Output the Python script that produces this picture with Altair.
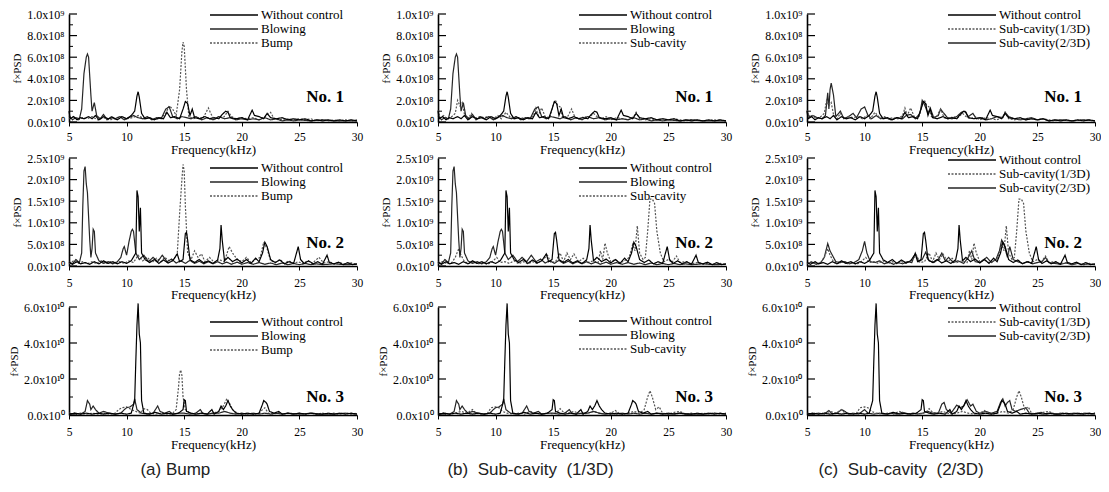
import altair as alt
import pandas as pd

# ---------------- data (frequency kHz, value in row units) ----------------
# Row 1 values in units of 1e8, Row 2 in units of 1e8, Row 3 in units of 1e10

WC_ROW1 = [(5.0,1.0),(5.1,0.3),(5.4,0.5),(5.7,0.2),(6.0,0.4),(6.3,0.3),(6.7,0.5),(7.0,0.3),(7.3,0.6),(7.6,0.2),(8.0,0.5),(8.4,0.3),(8.8,0.4),(9.2,0.2),(9.6,0.5),(10.0,0.3),(10.4,0.6),(10.7,1.0),(10.9,2.4),(11.0,2.8),(11.1,2.3),(11.3,0.8),(11.6,0.3),(12.0,0.4),(12.4,0.2),(12.8,0.4),(13.2,0.3),(13.5,0.9),(13.8,0.4),(14.2,0.5),(14.6,0.3),(14.9,1.2),(15.1,1.9),(15.3,1.7),(15.5,0.6),(15.7,1.2),(15.9,0.4),(16.3,0.3),(16.8,0.5),(17.2,0.3),(17.6,0.4),(18.0,0.3),(18.3,0.7),(18.6,1.0),(18.8,0.9),(19.0,0.4),(19.5,0.3),(20.0,0.4),(20.5,0.2),(20.9,1.1),(21.1,0.6),(21.5,0.5),(21.9,0.3),(22.2,0.8),(22.5,0.4),(23.0,0.3),(23.5,0.4),(24.0,0.2),(24.5,0.3),(25.0,0.2),(25.5,0.3),(26.0,0.1),(26.5,0.2),(27.0,0.1),(27.5,0.2),(28.0,0.1),(28.5,0.2),(29.0,0.1),(29.5,0.2),(30.0,0.1)]

BLOW_ROW1 = [(5.0,0.6),(5.3,0.2),(5.6,0.4),(5.9,0.3),(6.1,1.2),(6.3,4.5),(6.5,6.0),(6.6,6.3),(6.7,6.0),(6.9,2.5),(7.0,1.0),(7.2,1.8),(7.4,0.6),(7.7,0.3),(8.0,0.7),(8.3,0.2),(8.7,0.5),(9.0,0.3),(9.4,0.5),(9.8,0.2),(10.2,0.4),(10.6,0.6),(11.0,0.4),(11.4,0.3),(11.8,0.5),(12.2,0.2),(12.6,0.4),(13.0,0.3),(13.4,1.2),(13.7,1.4),(14.0,0.5),(14.4,0.3),(14.8,0.5),(15.2,0.4),(15.6,0.3),(16.0,0.5),(16.5,0.2),(17.0,0.4),(17.5,0.2),(18.0,0.5),(18.5,0.3),(19.0,0.4),(19.5,0.2),(20.0,0.3),(20.5,0.2),(21.0,0.3),(21.5,0.2),(22.0,0.4),(22.5,0.2),(23.0,0.3),(23.5,0.1),(24.0,0.2),(24.5,0.1),(25.0,0.2),(26.0,0.1),(27.0,0.2),(28.0,0.1),(29.0,0.1),(30.0,0.1)]

BUMP_ROW1 = [(5.0,0.3),(5.4,0.5),(5.8,0.2),(6.2,0.4),(6.6,0.3),(7.0,0.5),(7.5,0.2),(8.0,0.4),(8.5,0.2),(9.0,0.3),(9.5,0.5),(10.0,0.3),(10.5,0.4),(11.0,0.6),(11.5,0.3),(12.0,0.4),(12.5,0.2),(13.0,0.4),(13.4,0.8),(13.7,1.5),(14.0,1.2),(14.3,0.6),(14.6,3.0),(14.8,6.5),(14.9,7.4),(15.0,7.0),(15.2,3.0),(15.4,0.5),(15.8,0.3),(16.2,0.4),(16.6,0.3),(16.9,0.9),(17.1,1.3),(17.3,0.8),(17.6,0.2),(18.0,0.5),(18.4,0.4),(18.8,1.0),(19.1,0.5),(19.5,0.3),(20.0,0.4),(20.5,0.3),(21.0,0.4),(21.5,0.2),(22.0,0.5),(22.5,0.9),(22.8,0.3),(23.2,0.2),(23.8,0.3),(24.5,0.2),(25.0,0.3),(25.5,0.2),(26.0,0.3),(26.5,0.1),(27.0,0.2),(27.5,0.1),(28.0,0.2),(28.5,0.1),(29.0,0.2),(29.5,0.1),(30.0,0.2)]

SUB13_ROW1 = [(5.0,1.1),(5.2,0.4),(5.5,0.6),(5.8,0.3),(6.2,0.5),(6.5,0.8),(6.7,2.0),(6.9,1.5),(7.1,1.8),(7.3,0.7),(7.6,0.3),(7.9,0.8),(8.2,0.3),(8.6,0.5),(9.0,0.4),(9.4,0.5),(9.8,0.3),(10.2,0.6),(10.5,0.3),(10.9,0.9),(11.3,0.4),(11.7,0.5),(12.1,0.3),(12.5,0.4),(12.9,0.3),(13.3,0.6),(13.5,1.3),(13.7,0.6),(14.0,1.3),(14.3,0.5),(14.7,0.4),(15.0,1.6),(15.2,2.0),(15.4,1.5),(15.6,1.4),(15.8,0.5),(16.2,0.4),(16.6,1.2),(16.9,0.4),(17.3,0.3),(17.7,0.5),(18.1,0.4),(18.5,0.8),(18.8,0.5),(19.2,0.3),(19.6,0.5),(20.0,0.2),(20.5,0.4),(21.0,0.3),(21.5,0.2),(22.0,0.5),(22.2,0.9),(22.5,0.3),(23.0,0.2),(23.5,0.3),(24.0,0.2),(24.5,0.3),(25.0,0.2),(25.5,0.3),(26.0,0.2),(26.5,0.1),(27.0,0.2),(28.0,0.1),(29.0,0.2),(30.0,0.1)]

SUB23_ROW1 = [(5.0,1.0),(5.2,0.5),(5.5,0.6),(5.9,0.4),(6.3,0.3),(6.6,0.6),(6.8,2.7),(6.9,1.2),(7.0,3.0),(7.1,3.6),(7.3,2.5),(7.5,0.5),(7.9,1.0),(8.2,0.3),(8.6,0.5),(9.0,0.8),(9.3,0.4),(9.7,1.2),(10.0,1.4),(10.3,0.6),(10.6,0.3),(11.0,0.6),(11.4,0.3),(11.8,0.4),(12.3,0.2),(12.8,0.4),(13.3,0.3),(13.6,0.6),(14.0,0.7),(14.4,0.3),(14.8,0.8),(15.0,2.0),(15.2,1.6),(15.5,0.8),(15.7,1.3),(16.0,0.4),(16.4,0.6),(16.6,1.2),(16.8,0.9),(17.2,0.4),(17.6,0.3),(18.0,0.5),(18.4,0.9),(18.7,1.0),(19.0,0.5),(19.4,0.8),(19.7,0.3),(20.2,0.4),(20.6,0.2),(21.0,0.3),(21.5,0.5),(22.0,0.4),(22.2,0.9),(22.5,0.5),(23.0,0.3),(23.5,0.2),(24.0,0.3),(24.5,0.4),(25.0,0.2),(25.5,0.3),(26.0,0.1),(27.0,0.2),(28.0,0.1),(29.0,0.2),(30.0,0.1)]

WC_ROW2 = [(5.0,0.8),(5.3,0.4),(5.7,1.0),(6.0,0.5),(6.4,0.8),(6.8,0.4),(7.2,1.0),(7.6,0.5),(8.0,1.2),(8.4,0.6),(8.8,1.0),(9.2,0.5),(9.6,1.0),(10.0,0.6),(10.4,1.2),(10.8,3.0),(10.9,17.5),(11.0,16.0),(11.1,8.0),(11.2,13.5),(11.3,3.0),(11.6,1.5),(12.0,0.8),(12.4,1.5),(12.8,0.6),(13.2,1.4),(13.6,0.7),(14.0,1.2),(14.4,2.8),(14.6,1.0),(14.9,1.5),(15.1,7.5),(15.2,7.8),(15.3,6.0),(15.5,1.5),(15.9,0.8),(16.3,1.5),(16.7,0.7),(17.1,1.2),(17.5,0.6),(17.9,1.4),(18.1,4.0),(18.2,9.5),(18.3,6.0),(18.5,1.2),(18.8,2.0),(19.2,1.0),(19.6,1.6),(20.0,0.7),(20.4,1.5),(20.8,0.6),(21.2,1.8),(21.5,1.0),(21.8,3.0),(22.0,5.5),(22.2,4.5),(22.5,1.5),(22.9,0.8),(23.3,1.4),(23.7,0.5),(24.1,1.0),(24.5,0.6),(24.9,4.5),(25.1,1.5),(25.4,0.6),(25.8,1.2),(26.2,0.5),(26.6,1.0),(27.0,0.4),(27.4,2.5),(27.6,0.8),(28.0,0.5),(28.4,0.9),(28.8,0.3),(29.2,0.8),(29.6,0.3),(30.0,0.5)]

BLOW_ROW2 = [(5.0,1.0),(5.3,0.5),(5.6,1.5),(5.9,0.8),(6.1,3.0),(6.2,14.0),(6.3,22.0),(6.4,23.0),(6.5,19.0),(6.6,17.0),(6.8,6.0),(6.9,2.0),(7.0,4.0),(7.1,8.5),(7.2,8.0),(7.3,3.0),(7.6,1.2),(8.0,0.6),(8.4,1.0),(8.8,0.5),(9.2,1.0),(9.5,2.0),(9.7,4.0),(9.8,4.5),(10.0,2.5),(10.2,5.5),(10.4,8.0),(10.5,8.5),(10.6,8.0),(10.8,3.0),(11.1,1.5),(11.5,2.5),(11.9,1.0),(12.3,2.0),(12.7,1.0),(13.1,2.5),(13.5,1.0),(13.9,1.6),(14.3,0.7),(14.7,1.2),(15.1,0.6),(15.5,1.3),(15.9,0.6),(16.3,1.1),(16.7,0.5),(17.1,1.0),(17.5,0.5),(17.9,1.0),(18.3,0.5),(18.7,0.9),(19.1,0.4),(19.6,0.9),(20.0,0.4),(20.5,0.8),(21.0,0.4),(21.5,0.8),(22.0,0.4),(22.5,0.7),(23.0,0.3),(23.5,0.7),(24.0,0.3),(24.5,0.6),(25.0,0.3),(25.5,0.6),(26.0,0.3),(26.5,0.5),(27.0,0.3),(28.0,0.5),(29.0,0.3),(30.0,0.4)]

BUMP_ROW2 = [(5.0,0.5),(5.4,1.2),(5.8,0.6),(6.2,1.0),(6.6,0.5),(7.0,1.0),(7.4,0.5),(7.8,1.2),(8.2,0.6),(8.6,1.0),(9.0,0.5),(9.4,1.0),(9.8,0.6),(10.2,1.2),(10.6,0.8),(11.0,2.5),(11.4,1.2),(11.8,2.0),(12.2,0.8),(12.6,1.8),(13.0,1.0),(13.3,2.0),(13.7,1.2),(14.1,1.5),(14.4,3.0),(14.6,12.0),(14.8,20.0),(14.9,23.5),(15.0,22.0),(15.1,14.0),(15.3,3.0),(15.6,1.5),(15.9,3.5),(16.2,2.0),(16.5,2.8),(16.8,1.0),(17.2,2.0),(17.6,0.8),(18.0,1.5),(18.5,1.0),(18.9,4.5),(19.2,3.0),(19.6,1.5),(20.0,1.0),(20.4,2.0),(20.8,0.8),(21.2,1.5),(21.6,2.0),(21.9,5.5),(22.2,4.0),(22.5,1.2),(22.9,0.8),(23.3,1.5),(23.7,0.6),(24.1,1.2),(24.5,0.6),(24.9,1.0),(25.3,0.5),(25.7,1.2),(26.1,0.6),(26.7,2.0),(27.1,0.7),(27.6,1.0),(28.0,0.5),(28.5,0.8),(29.0,0.4),(29.5,0.7),(30.0,0.4)]

SUB13_ROW2 = [(5.0,0.6),(5.4,1.0),(5.8,0.5),(6.2,0.8),(6.5,2.0),(6.8,4.0),(7.0,2.5),(7.3,1.0),(7.7,0.6),(8.1,1.0),(8.5,0.5),(8.9,0.8),(9.3,0.4),(9.7,1.0),(10.1,2.0),(10.4,0.8),(10.8,1.0),(11.2,0.6),(11.6,1.2),(12.0,0.5),(12.4,1.0),(12.8,0.5),(13.2,1.0),(13.6,0.6),(14.0,1.2),(14.5,2.5),(14.8,0.8),(15.2,1.0),(15.6,3.0),(15.9,1.0),(16.2,3.0),(16.5,1.5),(16.8,2.8),(17.2,1.0),(17.6,1.8),(18.0,0.8),(18.5,1.2),(18.9,0.8),(19.1,3.5),(19.3,1.5),(19.5,5.3),(19.7,3.0),(20.0,1.0),(20.4,1.5),(20.8,0.7),(21.2,1.2),(21.6,2.0),(21.9,5.0),(22.1,3.5),(22.3,9.3),(22.5,3.0),(22.8,1.5),(23.0,2.0),(23.2,8.0),(23.4,15.5),(23.6,15.5),(23.8,14.5),(24.0,8.0),(24.3,3.0),(24.6,1.0),(25.0,1.5),(25.3,0.8),(25.7,2.3),(26.0,0.8),(26.5,1.0),(27.0,0.5),(27.5,0.8),(28.0,0.4),(28.5,0.7),(29.0,0.3),(29.5,0.6),(30.0,0.3)]

SUB23_ROW2 = [(5.0,0.5),(5.4,0.9),(5.8,0.4),(6.2,0.8),(6.5,2.0),(6.8,5.2),(7.0,3.5),(7.2,2.5),(7.5,1.0),(7.9,0.8),(8.3,1.0),(8.7,0.5),(9.1,0.8),(9.5,1.5),(9.8,3.5),(10.0,5.7),(10.2,3.0),(10.5,1.0),(10.9,0.8),(11.3,1.2),(11.7,0.5),(12.1,0.9),(12.5,0.4),(12.9,0.8),(13.3,0.5),(13.7,1.0),(14.1,0.8),(14.4,3.0),(14.7,1.0),(15.0,1.5),(15.3,3.2),(15.6,1.2),(16.0,0.8),(16.4,1.5),(16.7,3.0),(17.0,1.2),(17.3,2.0),(17.7,0.8),(18.1,1.2),(18.6,0.6),(19.0,2.0),(19.3,3.5),(19.6,1.0),(20.0,0.8),(20.6,2.0),(21.0,0.8),(21.4,1.5),(21.7,3.5),(21.9,6.0),(22.1,5.0),(22.4,2.0),(22.6,4.5),(22.9,1.5),(23.3,1.0),(23.7,0.6),(24.2,1.0),(24.6,0.5),(25.0,0.8),(25.4,1.0),(25.7,2.0),(26.0,0.8),(26.5,0.6),(27.0,0.4),(27.5,0.7),(28.0,0.3),(28.5,0.6),(29.0,0.3),(29.5,0.5),(30.0,0.3)]

WC_ROW3 = [(5.0,0.05),(5.5,0.1),(6.0,0.05),(6.5,0.1),(7.0,0.05),(7.5,0.1),(8.0,0.05),(8.5,0.1),(9.0,0.05),(9.5,0.1),(10.0,0.05),(10.4,0.1),(10.7,0.8),(10.8,3.0),(10.9,5.0),(11.0,6.2),(11.1,4.5),(11.2,4.0),(11.3,0.8),(11.5,0.1),(12.0,0.05),(12.5,0.15),(13.0,0.05),(13.5,0.1),(14.0,0.05),(14.5,0.1),(14.9,0.3),(15.0,0.85),(15.1,0.8),(15.2,0.2),(15.6,0.1),(16.0,0.05),(16.5,0.1),(17.0,0.05),(17.4,0.3),(17.6,0.05),(18.0,0.2),(18.2,0.5),(18.4,0.3),(18.6,0.5),(18.8,0.8),(19.0,0.5),(19.2,0.3),(19.5,0.1),(20.0,0.05),(20.5,0.1),(21.0,0.05),(21.5,0.1),(21.8,0.6),(21.9,0.8),(22.1,0.7),(22.2,0.6),(22.4,0.2),(22.8,0.1),(23.2,0.2),(23.5,0.05),(24.0,0.1),(24.5,0.05),(25.0,0.1),(25.5,0.05),(26.0,0.1),(26.5,0.05),(27.0,0.05),(27.5,0.1),(28.0,0.05),(28.5,0.1),(29.0,0.05),(29.5,0.1),(30.0,0.05)]

BLOW_ROW3 = [(5.0,0.05),(5.5,0.1),(6.0,0.05),(6.4,0.2),(6.6,0.8),(6.8,0.6),(6.9,0.3),(7.1,0.5),(7.3,0.3),(7.6,0.1),(8.0,0.2),(8.5,0.1),(9.0,0.05),(9.5,0.1),(9.8,0.3),(10.0,0.4),(10.3,0.45),(10.6,0.6),(10.7,0.9),(10.9,0.3),(11.3,0.1),(11.8,0.05),(12.3,0.1),(12.6,0.4),(12.7,0.5),(12.9,0.2),(13.3,0.1),(13.7,0.2),(14.0,0.05),(14.5,0.1),(15.0,0.1),(15.5,0.05),(16.0,0.1),(16.4,0.3),(16.6,0.1),(17.0,0.05),(17.5,0.1),(18.0,0.1),(18.5,0.2),(19.0,0.1),(19.5,0.05),(20.0,0.1),(20.5,0.05),(21.0,0.1),(21.5,0.05),(22.0,0.1),(22.5,0.05),(23.0,0.1),(23.5,0.05),(24.0,0.1),(25.0,0.05),(26.0,0.1),(27.0,0.05),(28.0,0.05),(29.0,0.1),(30.0,0.05)]

BUMP_ROW3 = [(5.0,0.1),(5.5,0.05),(6.0,0.1),(6.5,0.05),(7.0,0.1),(7.5,0.05),(8.0,0.1),(8.5,0.05),(9.0,0.1),(9.3,0.3),(9.6,0.4),(10.0,0.45),(10.4,0.3),(10.8,0.2),(11.2,0.1),(11.5,0.35),(11.8,0.3),(12.1,0.1),(12.5,0.05),(13.0,0.1),(13.5,0.05),(14.0,0.1),(14.3,0.3),(14.5,1.5),(14.6,2.3),(14.7,2.5),(14.8,2.2),(14.9,1.0),(15.1,0.3),(15.5,0.1),(16.0,0.05),(16.5,0.1),(17.0,0.05),(17.5,0.1),(18.0,0.2),(18.4,0.5),(18.7,0.9),(18.9,0.7),(19.2,0.3),(19.6,0.1),(20.0,0.05),(20.5,0.1),(21.0,0.05),(21.5,0.1),(21.8,0.3),(22.0,0.4),(22.3,0.1),(22.8,0.05),(23.2,0.15),(23.6,0.05),(24.0,0.1),(24.5,0.05),(25.0,0.1),(25.5,0.05),(26.0,0.1),(26.5,0.05),(27.0,0.1),(27.5,0.05),(28.0,0.1),(28.5,0.05),(29.0,0.1),(29.5,0.05),(30.0,0.1)]

SUB13_ROW3 = [(5.0,0.05),(5.5,0.1),(6.0,0.05),(6.5,0.1),(7.0,0.2),(7.5,0.1),(8.0,0.3),(8.3,0.1),(8.8,0.05),(9.3,0.1),(9.6,0.4),(10.0,0.45),(10.3,0.4),(10.6,0.2),(11.0,0.1),(11.5,0.05),(12.0,0.1),(12.5,0.05),(13.0,0.2),(13.5,0.1),(14.0,0.05),(14.5,0.1),(15.0,0.05),(15.4,0.2),(15.6,0.35),(15.9,0.15),(16.3,0.1),(16.8,0.2),(17.2,0.1),(17.6,0.05),(18.0,0.1),(18.5,0.2),(19.0,0.1),(19.5,0.05),(20.0,0.1),(20.4,0.25),(20.7,0.1),(21.0,0.05),(21.5,0.1),(22.0,0.2),(22.5,0.1),(22.9,0.3),(23.2,1.0),(23.4,1.35),(23.6,1.0),(23.9,0.3),(24.2,0.45),(24.5,0.1),(25.0,0.05),(25.5,0.15),(26.0,0.2),(26.5,0.05),(27.0,0.1),(27.5,0.05),(28.0,0.1),(28.5,0.05),(29.0,0.1),(29.5,0.05),(30.0,0.1)]

SUB23_ROW3 = [(5.0,0.1),(5.5,0.05),(6.0,0.1),(6.5,0.05),(6.9,0.25),(7.2,0.05),(7.6,0.1),(8.0,0.3),(8.3,0.2),(8.6,0.05),(9.0,0.1),(9.5,0.05),(9.8,0.2),(10.0,0.3),(10.3,0.1),(10.8,0.05),(11.3,0.1),(11.8,0.05),(12.3,0.1),(12.8,0.05),(13.3,0.15),(13.7,0.05),(14.2,0.1),(14.6,0.05),(15.0,0.1),(15.5,0.2),(15.9,0.1),(16.4,0.1),(16.7,0.6),(16.9,0.7),(17.1,0.3),(17.5,0.1),(18.0,0.55),(18.3,0.4),(18.6,0.5),(18.9,0.85),(19.2,0.5),(19.4,0.6),(19.7,0.2),(20.0,0.1),(20.5,0.2),(21.0,0.1),(21.5,0.2),(21.8,0.7),(22.0,0.9),(22.2,0.5),(22.4,0.7),(22.6,0.8),(22.8,0.3),(23.1,0.2),(23.5,0.3),(24.0,0.4),(24.3,0.1),(24.8,0.05),(25.3,0.15),(25.8,0.05),(26.2,0.1),(26.7,0.05),(27.2,0.1),(27.7,0.05),(28.2,0.1),(28.7,0.05),(29.2,0.1),(29.7,0.05),(30.0,0.1)]

# ---------------- axes / labels ----------------
FREQ_TICKS = [5, 10, 15, 20, 25, 30]
ROW_TICKS = [[0, 2, 4, 6, 8, 10], [0, 5, 10, 15, 20, 25], [0, 2, 4, 6]]
ROW_MINOR = [[1, 3, 5, 7, 9], [2.5, 7.5, 12.5, 17.5, 22.5], [1, 3, 5]]
ROW_LABELS = [
    ["0.0x10⁰", "2.0x10⁸", "4.0x10⁸", "6.0x10⁸", "8.0x10⁸", "1.0x10⁹"],
    ["0.0x10⁰", "5.0x10⁸", "1.0x10⁹", "1.5x10⁹", "2.0x10⁹", "2.5x10⁹"],
    ["0.0x10⁰", "2.0x10¹⁰", "4.0x10¹⁰", "6.0x10¹⁰"],
]
ROW_TAGS = ["No. 1", "No. 2", "No. 3"]
CAPTIONS = ["(a) Bump", "(b)\u00a0\u00a0Sub-cavity\u00a0\u00a0(1/3D)", "(c)\u00a0\u00a0Sub-cavity\u00a0\u00a0(2/3D)"]
SERIES_NAMES = [
    ["Without control", "Blowing", "Bump"],
    ["Without control", "Blowing", "Sub-cavity"],
    ["Without control", "Sub-cavity(1/3D)", "Sub-cavity(2/3D)"],
]
SERIES_DATA = [
    [[WC_ROW1, BLOW_ROW1, BUMP_ROW1], [WC_ROW2, BLOW_ROW2, BUMP_ROW2], [WC_ROW3, BLOW_ROW3, BUMP_ROW3]],
    [[WC_ROW1, BLOW_ROW1, SUB13_ROW1], [WC_ROW2, BLOW_ROW2, SUB13_ROW2], [WC_ROW3, BLOW_ROW3, SUB13_ROW3]],
    [[WC_ROW1, SUB13_ROW1, SUB23_ROW1], [WC_ROW2, SUB13_ROW2, SUB23_ROW2], [WC_ROW3, SUB13_ROW3, SUB23_ROW3]],
]

# ---------------- styles ----------------
SERIF = "Liberation Serif"
W, H = 288, 108
COL_COLORS = [["#000000", "#262626", "#555555"],
              ["#000000", "#262626", "#555555"],
              ["#000000", "#555555", "#262626"]]
COL_DASHES = [[[1, 0], [1, 0], [2, 1.5]],
              [[1, 0], [1, 0], [2, 1.5]],
              [[1, 0], [2, 1.5], [1, 0]]]
LEGEND_Y = [[-6, 3, 8], [-6, 3, 7], [-6, -5, -6]]
TAG_UP = [25, 23, 18]
X_LABEL_PAD = [5, 7, 7]
X_TITLE_PAD = [1, 0, 1]
CAPTION_DX = [132, 70, 72]


def panel(r, c):
    names = SERIES_NAMES[c]
    rows = []
    for k in [2, 1, 0]:
        for f, v in SERIES_DATA[c][r][k]:
            rows.append({"f": f, "v": v, "series": names[k]})
    df = pd.DataFrame(rows)

    xs = alt.Scale(domain=[5, 30], nice=False, zero=False)
    ys = alt.Scale(domain=[0, ROW_TICKS[r][-1]], nice=False, zero=True)
    label_expr = ("[" + ",".join("'%s'" % s for s in ROW_LABELS[r]) + "][indexof(["
                  + ",".join(str(t) for t in ROW_TICKS[r]) + "], datum.value)]")
    yaxis = alt.Axis(
        values=ROW_TICKS[r], labelExpr=label_expr, ticks=False, title="f×PSD",
        domainColor="black", domainWidth=1.6, labelFont=SERIF, labelFontSize=12,
        labelColor="black", titleFont=SERIF, titleFontSize=11, titleFontWeight="normal",
        titleColor="black", labelPadding=5, titlePadding=4, grid=False)

    leg = alt.Legend(title=None, orient="none", legendX=158, legendY=LEGEND_Y[c][r],
                     symbolType="M-4,0L4,0", symbolSize=144, symbolStrokeWidth=1.3,
                     labelFont=SERIF, labelFontSize=13, labelColor="black",
                     labelOffset=20, rowPadding=0, labelLimit=250, padding=0)

    lines = alt.Chart(df).mark_line(strokeWidth=1.2).encode(
        x=alt.X("f:Q", scale=xs, axis=alt.Axis(
            values=FREQ_TICKS, title="Frequency(kHz)", tickSize=4, tickColor="black",
            domainColor="black", domainWidth=1.6, labelFont=SERIF, labelFontSize=11.5,
            labelColor="black", titleFont=SERIF, titleFontSize=13, titleFontWeight="normal",
            titleColor="black", labelPadding=X_LABEL_PAD[r], titlePadding=X_TITLE_PAD[r],
            grid=False, labelFlush=False)),
        y=alt.Y("v:Q", scale=ys, axis=yaxis),
        color=alt.Color("series:N", scale=alt.Scale(domain=names, range=COL_COLORS[c]), legend=leg),
        strokeDash=alt.StrokeDash("series:N", scale=alt.Scale(domain=names, range=COL_DASHES[c]), legend=leg),
    )

    major = alt.Chart(pd.DataFrame({"v": ROW_TICKS[r]})).mark_rule(color="black", strokeWidth=1.2).encode(
        y=alt.Y("v:Q", scale=ys, axis=yaxis), x=alt.value(0), x2=alt.value(8))
    minor = alt.Chart(pd.DataFrame({"v": ROW_MINOR[r]})).mark_rule(color="black", strokeWidth=1.0).encode(
        y=alt.Y("v:Q", scale=ys, axis=yaxis), x=alt.value(0), x2=alt.value(4))
    tag = alt.Chart(pd.DataFrame({"t": [ROW_TAGS[r]]})).mark_text(
        font=SERIF, fontSize=17, fontWeight="bold", align="right", baseline="middle", color="black"
    ).encode(x=alt.value(W - 13), y=alt.value(H - TAG_UP[r]), text="t:N")

    return alt.layer(lines, major, minor, tag).properties(width=W, height=H)


columns = []
for c in range(3):
    lower = alt.vconcat(panel(1, c), panel(2, c), spacing=-2).resolve_scale(
        color="independent", strokeDash="independent")
    col = alt.vconcat(panel(0, c), lower, spacing=-5).resolve_scale(
        color="independent", strokeDash="independent").properties(
        title=alt.TitleParams(CAPTIONS[c], orient="bottom", font="Liberation Sans", fontSize=17,
                              fontWeight="normal", color="#222222", offset=10, anchor="start",
                              dx=CAPTION_DX[c]))
    columns.append(col)

chart = alt.hconcat(*columns, spacing=14).resolve_scale(
    color="independent", strokeDash="independent").properties(padding=0).configure_view(stroke=None)

chart.save("out.html", embed_options={"renderer": "svg", "actions": False})
